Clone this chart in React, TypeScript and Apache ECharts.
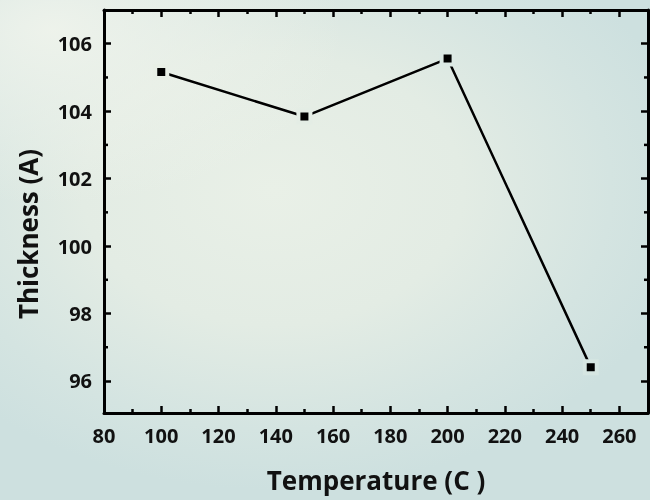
import React, { useEffect, useRef } from "react";
import * as echarts from "echarts";

const temperatures = [100, 150, 200, 250];
const thickness = [105.16, 103.84, 105.56, 96.41];
const xTicks = [80, 100, 120, 140, 160, 180, 200, 220, 240, 260];
const yTicks = [96, 98, 100, 102, 104, 106];
const yMinorTicks = [97, 99, 101, 103, 105];
const xTitle = "Temperature (C )";
const yTitle = "Thickness (A)";

const FONT = "'Open Sans', 'DejaVu Sans', sans-serif";
const gapColors = ["#e8efe6", "#e4ede5", "#dce9e4", "#d6e6e2"];

export default function App() {
  const ref = useRef<HTMLDivElement>(null);
  useEffect(() => {
    if (!ref.current) return;
    const chart = echarts.init(ref.current, undefined, { renderer: "svg" });
    const axisLine = { show: true, lineStyle: { color: "#000", width: 3 } };
    const tick = { show: true, inside: true, length: 7, lineStyle: { color: "#000", width: 2.5 } };
    const minor = { show: true, splitNumber: 2, length: 4, lineStyle: { color: "#000", width: 2.5 } };
    const labelStyle = { color: "#111", fontFamily: FONT, fontWeight: "bold" as const, fontSize: 20 };
    const xMin = xTicks[0];
    const xMax = 270;
    const yMin = 95.05;
    const yMax = 107;
    const common = {
      splitLine: { show: false },
      axisLine,
      axisTick: tick,
      minorTick: minor,
    };
    chart.setOption({
      animation: false,
      backgroundColor: "transparent",
      grid: { left: 104, top: 10, right: 2, bottom: 87, containLabel: false, outerBoundsMode: "none" },
      xAxis: [
        {
          type: "value",
          min: xMin,
          max: xMax,
          interval: 20,
          position: "bottom",
          ...common,
          axisLabel: { ...labelStyle, margin: 12, formatter: (v: number) => (xTicks.includes(v) ? String(v) : "") },
          name: xTitle,
          nameLocation: "middle",
          nameGap: 54,
          nameTextStyle: { color: "#111", fontFamily: FONT, fontWeight: "bold", fontSize: 26 },
        },
        {
          type: "value",
          min: xMin,
          max: xMax,
          interval: 20,
          position: "top",
          ...common,
          axisLabel: { show: false },
        },
      ],
      yAxis: [
        {
          type: "value",
          min: yMin,
          max: yMax,
          interval: 2,
          position: "left",
          ...common,
          axisLabel: { ...labelStyle, margin: 12, customValues: yTicks },
          axisTick: { ...tick, customValues: yTicks },
          minorTick: { show: false },
        },
        {
          type: "value",
          min: yMin,
          max: yMax,
          interval: 2,
          position: "right",
          ...common,
          axisLabel: { show: false },
          axisTick: { ...tick, customValues: yTicks },
          minorTick: { show: false },
        },
      ],
      series: [
        {
          type: "line",
          data: temperatures.map((t, i) => ({
            value: [t, thickness[i]],
            itemStyle: { color: "#000", borderColor: gapColors[i], borderWidth: 4 },
          })),
          symbol: "rect",
          symbolSize: 12,
          lineStyle: { color: "#000", width: 2.5 },
          itemStyle: { color: "#000" },
        },
      ],
    });
    const ext: any[] = [];
    yMinorTicks.forEach((v) => {
      const p = chart.convertToPixel({ yAxisIndex: 0 }, v);
      ext.push({ type: "line", shape: { x1: 104, y1: p, x2: 108, y2: p }, style: { stroke: "#000", lineWidth: 2.5 } });
      ext.push({ type: "line", shape: { x1: 644, y1: p, x2: 648, y2: p }, style: { stroke: "#000", lineWidth: 2.5 } });
    });
    chart.setOption({
      graphic: [
        {
          type: "text",
          x: 28,
          y: 234,
          rotation: Math.PI / 2,
          style: {
            text: yTitle,
            fill: "#111",
            font: `bold 26px ${FONT}`,
            textAlign: "center",
            textVerticalAlign: "middle",
          },
        },
        ...ext,
      ],
    });
    return () => chart.dispose();
  }, []);
  return (
    <div
      ref={ref}
      style={{
        position: "fixed",
        left: 0,
        top: 0,
        width: 650,
        height: 500,
        background:
          "radial-gradient(ellipse 45% 35% at 8% 6%, rgba(240,244,236,0.9) 0%, rgba(240,244,236,0) 100%), radial-gradient(ellipse 65% 60% at 42% 38%, #e9f0e7 0%, #e3ece4 45%, #d4e4e1 80%, #cde0df 100%)",
      }}
    />
  );
}
